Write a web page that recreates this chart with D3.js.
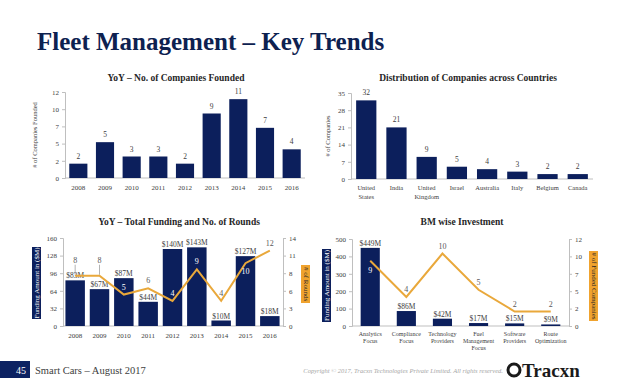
<!DOCTYPE html>
<html><head><meta charset="utf-8">
<script src="https://cdn.jsdelivr.net/npm/d3@7"></script>
<style>body{margin:0;background:#fff}svg{display:block}</style>
</head><body>
<svg id="c" width="638" height="383"></svg>
<script>
// ---- data ----
const years = ["2008","2009","2010","2011","2012","2013","2014","2015","2016"];
const founded = [2,5,3,3,2,9,11,7,4];
const foundedTicks = [0,2.4,4.8,7.2,9.6,12];
const foundedTickLabels = ["0","2","5","7","10","12"];

const countries = ["United States","India","United Kingdom","Israel","Australia","Italy","Belgium","Canada"];
const countryLines = [["United","States"],["India"],["United","Kingdom"],["Israel"],["Australia"],["Italy"],["Belgium"],["Canada"]];
const countryCounts = [32,21,9,5,4,3,2,2];
const countryTicks = [0,7,14,21,28,35];

const funding = [83,67,87,44,140,143,10,127,18];
const rounds = [8,8,5,6,4,9,4,10,12];
const fundingTicks = [0,32,64,96,128,160];
const roundsTicks = [0,2.8,5.6,8.4,11.2,14];
const roundsTickLabels = ["0","3","6","8","11","14"];

const models = ["Analytics Focus","Compliance Focus","Technology Providers","Fuel Management Focus","Software Providers","Route Optimization"];
const modelLines = [["Analytics","Focus"],["Compliance","Focus"],["Technology","Providers"],["Fuel","Management","Focus"],["Software","Providers"],["Route","Optimization"]];
const bmFunding = [449,86,42,17,15,9];
const bmCompanies = [9,4,10,5,2,2];
const bmTicks = [0,100,200,300,400,500];
const bmRightTicks = [0,2.4,4.8,7.2,9.6,12];
const bmRightTickLabels = ["0","2","5","7","10","12"];

// ---- style ----
const NAVY = "#0c1f5c", GOLD = "#e9a83b", ORANGE = "#f0a32e", AXIS = "#bfbfbf", TXT = "#404040";
const FONT = "Liberation Serif, serif";
const svg = d3.select("#c");

svg.append("text").attr("x",37).attr("y",50).attr("fill","#0d2150")
  .attr("font-family",FONT).attr("font-weight","bold").attr("font-size",25)
  .text("Fleet Management – Key Trends");

function title(x,y,t){
  svg.append("text").attr("x",x).attr("y",y).attr("text-anchor","middle")
    .attr("font-family",FONT).attr("font-weight","bold").attr("font-size",9.5).attr("fill","#262626").text(t);
}
function leftAxis(g, y, ticks, labels, x0){
  const ax = d3.axisLeft(y).tickValues(ticks).tickSize(3).tickFormat((d,i)=>labels?labels[i]:d);
  const a = g.append("g").attr("transform",`translate(${x0},0)`).call(ax);
  styleAxis(a);
}
function rightAxis(g, y, ticks, labels, x0){
  const ax = d3.axisRight(y).tickValues(ticks).tickSize(3).tickFormat((d,i)=>labels?labels[i]:d);
  const a = g.append("g").attr("transform",`translate(${x0},0)`).call(ax);
  styleAxis(a);
}
function styleAxis(a){
  a.select(".domain").attr("stroke",AXIS);
  a.selectAll(".tick line").attr("stroke",AXIS);
  a.selectAll(".tick text").attr("font-family",FONT).attr("font-size",7).attr("fill",TXT);
}
function bottomLine(g,x0,x1,y0){
  g.append("line").attr("x1",x0).attr("x2",x1).attr("y1",y0).attr("y2",y0).attr("stroke",AXIS);
}
function rotLabel(x,y,t,rot){
  svg.append("text").attr("transform",`translate(${x},${y}) rotate(${rot})`).attr("text-anchor","middle")
    .attr("font-family",FONT).attr("font-size",6.5).attr("fill",TXT).text(t);
}
function boxLabel(x,y,w,h,t,rot,bg,fg){
  svg.append("rect").attr("x",x).attr("y",y).attr("width",w).attr("height",h).attr("fill",bg);
  svg.append("text").attr("transform",`translate(${x+w/2},${y+h/2}) rotate(${rot})`)
    .attr("text-anchor","middle").attr("dominant-baseline","central")
    .attr("font-family",FONT).attr("font-size",7).attr("fill",fg).text(t);
}

// ---- chart 1 ----
{
  const g = svg.append("g");
  const x = d3.scaleBand().domain(years).range([65,305]).paddingInner(0.32).paddingOuter(0.16);
  const y = d3.scaleLinear().domain([0,12]).range([178,92]);
  title(176,81,"YoY – No. of Companies Founded");
  leftAxis(g,y,foundedTicks,foundedTickLabels,65);
  bottomLine(g,65,305,178);
  g.selectAll("rect.b").data(founded).join("rect").attr("x",(d,i)=>x(years[i])).attr("width",x.bandwidth())
    .attr("y",d=>y(d)).attr("height",d=>y(0)-y(d)).attr("fill",NAVY);
  g.selectAll("text.v").data(founded).join("text").attr("x",(d,i)=>x(years[i])+x.bandwidth()/2).attr("y",d=>y(d)-5)
    .attr("text-anchor","middle").attr("font-family",FONT).attr("font-size",7.5).attr("fill",TXT).text(d=>d);
  g.selectAll("text.x").data(years).join("text").attr("x",d=>x(d)+x.bandwidth()/2).attr("y",190)
    .attr("text-anchor","middle").attr("font-family",FONT).attr("font-size",7).attr("fill",TXT).text(d=>d);
  rotLabel(37,135,"# of Companies Founded",-90);
}

// ---- chart 2 ----
{
  const g = svg.append("g");
  const x = d3.scaleBand().domain(countries).range([351,593]).paddingInner(0.33).paddingOuter(0.17);
  const y = d3.scaleLinear().domain([0,35]).range([179,93]);
  title(468,81,"Distribution of Companies across Countries");
  leftAxis(g,y,countryTicks,null,351);
  bottomLine(g,351,593,179);
  g.selectAll("rect.b").data(countryCounts).join("rect").attr("x",(d,i)=>x(countries[i])).attr("width",x.bandwidth())
    .attr("y",d=>y(d)).attr("height",d=>y(0)-y(d)).attr("fill",NAVY);
  g.selectAll("text.v").data(countryCounts).join("text").attr("x",(d,i)=>x(countries[i])+x.bandwidth()/2).attr("y",d=>y(d)-5)
    .attr("text-anchor","middle").attr("font-family",FONT).attr("font-size",7.5).attr("fill",TXT).text(d=>d);
  countries.forEach((c,i)=>{
    countryLines[i].forEach((l,j)=>{
      g.append("text").attr("x",x(c)+x.bandwidth()/2).attr("y",190+j*8.5).attr("text-anchor","middle")
        .attr("font-family",FONT).attr("font-size",6.5).attr("fill",TXT).text(l);
    });
  });
  rotLabel(330,136,"# of Companies",-90);
}

// ---- chart 3 ----
{
  const g = svg.append("g");
  const x = d3.scaleBand().domain(years).range([63,282]).paddingInner(0.2).paddingOuter(0.1);
  const y = d3.scaleLinear().domain([0,160]).range([326,238]);
  const y2 = d3.scaleLinear().domain([0,14]).range([326,238]);
  title(179,225,"YoY – Total Funding and No. of Rounds");
  leftAxis(g,y,fundingTicks,null,63);
  rightAxis(g,y2,roundsTicks,roundsTickLabels,283);
  bottomLine(g,63,283,326);
  g.selectAll("rect.b").data(funding).join("rect").attr("x",(d,i)=>x(years[i])).attr("width",x.bandwidth())
    .attr("y",d=>y(d)).attr("height",d=>y(0)-y(d)).attr("fill",NAVY);
  g.selectAll("text.v").data(funding).join("text").attr("x",(d,i)=>x(years[i])+x.bandwidth()/2).attr("y",d=>y(d)-2)
    .attr("text-anchor","middle").attr("font-family",FONT).attr("font-size",7.5).attr("fill",TXT).text(d=>"$"+d+"M");
  const cx = i=>x(years[i])+x.bandwidth()/2;
  g.append("path").datum(rounds).attr("d",d3.line().x((d,i)=>cx(i)).y(d=>y2(d)))
    .attr("fill","none").attr("stroke",GOLD).attr("stroke-width",2);
  const below = [false,false,false,false,false,false,false,true,false];
  const lifted = [true,true,false,false,false,false,false,false,false];
  rounds.forEach((d,i)=>{
    let ly = below[i] ? y2(d)+11 : y2(d)-(lifted[i]?13:5);
    const inside = ly > y(funding[i]) + 2;
    if(lifted[i]) g.append("line").attr("x1",cx(i)).attr("x2",cx(i)).attr("y1",ly+2).attr("y2",y2(d)-1).attr("stroke","#7f7f7f").attr("stroke-width",0.6);
    g.append("text").attr("x",cx(i)).attr("y",ly).attr("text-anchor","middle").attr("font-family",FONT)
      .attr("font-size",8).attr("fill",inside?"#ffffff":"#595959").text(d);
  });
  g.selectAll("text.x").data(years).join("text").attr("x",d=>x(d)+x.bandwidth()/2).attr("y",338)
    .attr("text-anchor","middle").attr("font-family",FONT).attr("font-size",7).attr("fill",TXT).text(d=>d);
  boxLabel(32,247,9,72,"Funding Amount in ($M)",-90,NAVY,"#ffffff");
  boxLabel(301,265,9,38,"# of Rounds",90,ORANGE,"#262626");
}

// ---- chart 4 ----
{
  const g = svg.append("g");
  const x = d3.scaleBand().domain(models).range([352,569]).paddingInner(0.47).paddingOuter(0.24);
  const y = d3.scaleLinear().domain([0,500]).range([326,239]);
  const y2 = d3.scaleLinear().domain([0,12]).range([326,239]);
  title(462,225,"BM wise Investment");
  leftAxis(g,y,bmTicks,null,352);
  rightAxis(g,y2,bmRightTicks,bmRightTickLabels,569);
  bottomLine(g,352,569,326);
  g.selectAll("rect.b").data(bmFunding).join("rect").attr("x",(d,i)=>x(models[i])).attr("width",x.bandwidth())
    .attr("y",d=>y(d)).attr("height",d=>y(0)-y(d)).attr("fill",NAVY);
  g.selectAll("text.v").data(bmFunding).join("text").attr("x",(d,i)=>x(models[i])+x.bandwidth()/2).attr("y",d=>y(d)-2)
    .attr("text-anchor","middle").attr("font-family",FONT).attr("font-size",7.5).attr("fill",TXT).text(d=>"$"+d+"M");
  const cx = i=>x(models[i])+x.bandwidth()/2;
  g.append("path").datum(bmCompanies).attr("d",d3.line().x((d,i)=>cx(i)).y(d=>y2(d)))
    .attr("fill","none").attr("stroke",GOLD).attr("stroke-width",2);
  bmCompanies.forEach((d,i)=>{
    const below = i===0;
    const ly = below ? y2(d)+12 : y2(d)-5;
    const inside = ly > y(bmFunding[i]) + 2;
    g.append("text").attr("x",cx(i)).attr("y",ly).attr("text-anchor","middle").attr("font-family",FONT)
      .attr("font-size",8).attr("fill",inside?"#ffffff":"#595959").text(d);
  });
  models.forEach((m,i)=>{
    modelLines[i].forEach((l,j)=>{
      g.append("text").attr("x",cx(i)).attr("y",336+j*7).attr("text-anchor","middle")
        .attr("font-family",FONT).attr("font-size",6).attr("fill",TXT).text(l);
    });
  });
  boxLabel(322,249,9,73,"Funding Amount in ($M)",-90,NAVY,"#ffffff");
  boxLabel(589,251,9,70,"# of Funded Companies",90,ORANGE,"#262626");
}

// ---- footer ----
svg.append("rect").attr("x",0).attr("y",361).attr("width",30).attr("height",17).attr("fill","#0c2262");
svg.append("text").attr("x",26).attr("y",373.5).attr("text-anchor","end").attr("font-family",FONT)
  .attr("font-size",10).attr("fill","#fff").text("45");
svg.append("text").attr("x",35).attr("y",373.5).attr("font-family",FONT).attr("font-size",10.5).attr("fill","#404040")
  .text("Smart Cars – August 2017");
svg.append("text").attr("x",503).attr("y",373).attr("text-anchor","end").attr("font-family",FONT).attr("font-style","italic")
  .attr("font-size",6.5).attr("fill","#a6a6a6").text("Copyright © 2017, Tracxn Technologies Private Limited. All rights reserved.");
svg.append("circle").attr("cx",514).attr("cy",370).attr("r",6).attr("fill","none").attr("stroke","#1a1a1a").attr("stroke-width",3);
svg.append("text").attr("x",522).attr("y",377).attr("font-family",FONT).attr("font-weight","bold")
  .attr("font-size",19).attr("fill","#1a1a1a").text("Tracxn");
</script>
</body></html>
